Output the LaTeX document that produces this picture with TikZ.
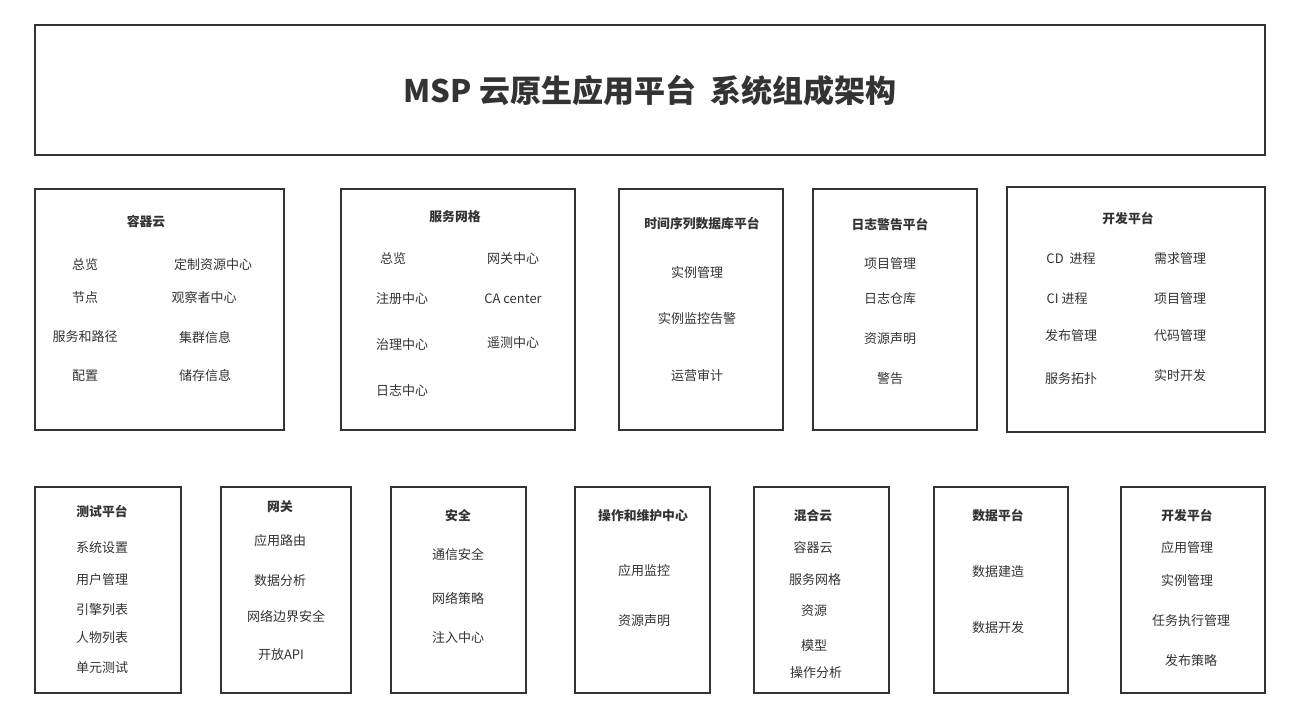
\documentclass[tikz,border=0pt]{standalone}
\usepackage{fontspec}
\setmainfont{Noto Sans CJK SC}
\usetikzlibrary{positioning}
\definecolor{framegray}{HTML}{333333}
\definecolor{textgray}{HTML}{333333}

\begin{document}
\begin{tikzpicture}[x=1pt, y=-1pt,
  every node/.style={text=textgray, align=center, inner sep=0pt},
  panel/.style={draw=framegray, line width=1.6pt, fill=white},
  head/.style={font=\bfseries\fontsize{12.8}{15}\selectfont},
  item/.style={font=\fontsize{13}{15}\selectfont}]
\useasboundingbox[fill=white] (0,0) rectangle (1289,719);
% banner
\node[panel, minimum width=1230, minimum height=130] (banner) at (650,90) {};
\node[font=\bfseries\fontsize{31}{36}\selectfont] (title) at (650,91) {MSP 云原生应用平台\ \ 系统组成架构};
% first row
\node[panel, minimum width=249, minimum height=241] (rongqi) at (159.5,309.5) {};
\node[panel, minimum width=234, minimum height=241] (wangge) at (458,309.5) {};
\node[panel, minimum width=164, minimum height=241] (shixu) at (701,309.5) {};
\node[panel, minimum width=164, minimum height=241] (rizhi) at (895,309.5) {};
\node[panel, minimum width=258, minimum height=245] (kaifa) at (1136,309.5) {};
\node[head] (rongqi-h) at (146,222) {容器云};
\node[head] (wangge-h) at (455,217) {服务网格};
\node[head] (shixu-h) at (702,224) {时间序列数据库平台};
\node[head] (rizhi-h) at (890,224) {日志警告平台};
\node[head] (kaifa-h) at (1128,219) {开发平台};
\foreach \t/\x/\y [count=\i] in {总览/85/265, 节点/85/298, 服务和路径/85/337, 配置/85/376,
  定制资源中心/213/265, 观察者中心/204/298, 集群信息/205/338, 储存信息/205/376}
  \node[item] (rongqi-\i) at (\x,\y) {\t};
\foreach \t/\x/\y [count=\i] in {总览/393/259, 注册中心/402/299, 治理中心/402/345, 日志中心/402/391,
  网关中心/513/259, CA center/513/299, 遥测中心/513/343}
  \node[item] (wangge-\i) at (\x,\y) {\t};
\foreach \t/\y [count=\i] in {实例管理/273, 实例监控告警/319, 运营审计/376}
  \node[item] (shixu-\i) at (697,\y) {\t};
\foreach \t/\y [count=\i] in {项目管理/264, 日志仓库/299, 资源声明/339, 警告/379}
  \node[item] (rizhi-\i) at (890,\y) {\t};
\foreach \t/\x/\y [count=\i] in {CD\ \ 进程/1071/259, CI 进程/1067/299, 发布管理/1071/336, 服务拓扑/1071/379,
  需求管理/1180/259, 项目管理/1180/299, 代码管理/1180/336, 实时开发/1180/376}
  \node[item] (kaifa-\i) at (\x,\y) {\t};
% second row
\node[panel, minimum width=146, minimum height=206] (ceshi) at (108,590) {};
\node[panel, minimum width=130, minimum height=206] (wangguan) at (286,590) {};
\node[panel, minimum width=135, minimum height=206] (anquan) at (458.5,590) {};
\node[panel, minimum width=135, minimum height=206] (yunwei) at (642.5,590) {};
\node[panel, minimum width=135, minimum height=206] (hunhe) at (821.5,590) {};
\node[panel, minimum width=134, minimum height=206] (shuju) at (1001,590) {};
\node[panel, minimum width=144, minimum height=206] (yanfa) at (1193,590) {};
\node[head] (ceshi-h) at (102,511) {测试平台};
\node[head] (wangguan-h) at (280,507) {网关};
\node[head] (anquan-h) at (458,516) {安全};
\node[head] (yunwei-h) at (643,516) {操作和维护中心};
\node[head] (hunhe-h) at (813,516) {混合云};
\node[head] (shuju-h) at (998,516) {数据平台};
\node[head] (yanfa-h) at (1187,516) {开发平台};
\foreach \t/\y [count=\i] in {系统设置/548, 用户管理/580, 引擎列表/610, 人物列表/638, 单元测试/668}
  \node[item] (ceshi-\i) at (102,\y) {\t};
\foreach \t/\x/\y [count=\i] in {应用路由/280/541, 数据分析/280/581, 网络边界安全/286/617, 开放API/281/655}
  \node[item] (wangguan-\i) at (\x,\y) {\t};
\foreach \t/\y [count=\i] in {通信安全/555, 网络策略/598, 注入中心/638}
  \node[item] (anquan-\i) at (458,\y) {\t};
\foreach \t/\y [count=\i] in {应用监控/571, 资源声明/621}
  \node[item] (yunwei-\i) at (644,\y) {\t};
\foreach \t/\x/\y [count=\i] in {容器云/813/548, 服务网格/815/580, 资源/814/611, 模型/814/646, 操作分析/816/673}
  \node[item] (hunhe-\i) at (\x,\y) {\t};
\foreach \t/\y [count=\i] in {数据建造/572, 数据开发/628}
  \node[item] (shuju-\i) at (998,\y) {\t};
\foreach \t/\x/\y [count=\i] in {应用管理/1187/548, 实例管理/1187/581, 任务执行管理/1191/621, 发布策略/1191/661}
  \node[item] (yanfa-\i) at (\x,\y) {\t};
\end{tikzpicture}
\end{document}
